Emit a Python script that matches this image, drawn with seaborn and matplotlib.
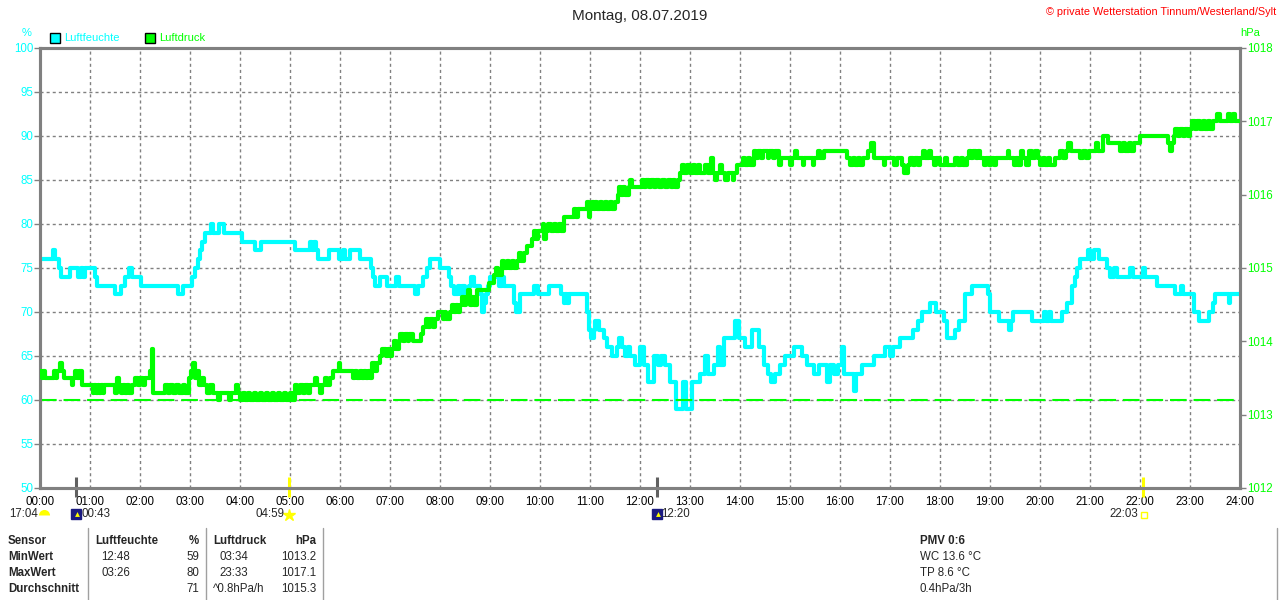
import matplotlib
matplotlib.use("Agg")
import matplotlib.pyplot as plt
import matplotlib.transforms as mtransforms
from matplotlib.lines import Line2D
import seaborn as sns
import pandas as pd

title = "Montag, 08.07.2019"
credit = "© private Wetterstation Tinnum/Westerland/Sylt"

# (hour, %) step points
hum_steps = [
    (0.00, 76), (0.25, 77), (0.30, 76), (0.38, 75), (0.42, 74), (0.60, 75), (0.75, 74), (0.82, 75),
    (0.86, 74), (0.90, 75), (1.10, 74), (1.14, 73), (1.50, 72), (1.62, 73), (1.70, 74), (1.78, 75),
    (1.84, 74), (2.02, 73), (2.75, 72), (2.86, 73), (3.04, 74), (3.10, 75), (3.16, 76), (3.20, 77),
    (3.24, 78), (3.30, 79), (3.42, 80), (3.45, 79), (3.57, 80), (3.68, 79), (4.03, 78), (4.30, 77),
    (4.42, 78), (5.10, 77), (5.40, 78), (5.44, 77), (5.48, 78), (5.52, 77), (5.55, 76), (5.78, 77),
    (5.98, 76), (6.05, 77), (6.10, 76), (6.20, 77), (6.40, 76), (6.62, 75), (6.66, 74), (6.70, 73),
    (6.80, 74), (6.94, 73), (7.12, 74), (7.18, 73), (7.50, 72), (7.56, 73), (7.66, 74), (7.74, 75),
    (7.80, 76), (8.00, 75), (8.17, 74), (8.22, 73), (8.27, 72), (8.35, 73), (8.40, 72), (8.45, 73),
    (8.50, 72), (8.58, 73), (8.62, 74), (8.68, 73), (8.80, 72), (8.84, 70), (8.88, 71), (8.92, 72),
    (8.96, 73), (9.00, 74), (9.18, 73), (9.24, 74), (9.28, 73), (9.48, 71), (9.52, 70), (9.60, 72),
    (9.88, 73), (9.95, 72), (10.17, 73), (10.42, 72), (10.47, 71), (10.50, 72), (10.53, 71), (10.58, 72),
    (10.94, 70), (10.98, 68), (11.02, 67), (11.08, 68), (11.10, 69), (11.18, 68), (11.27, 67), (11.34, 66),
    (11.43, 65), (11.53, 66), (11.58, 67), (11.63, 66), (11.70, 65), (11.75, 66), (11.80, 65), (11.90, 64),
    (12.00, 66), (12.07, 64), (12.15, 62), (12.27, 65), (12.35, 64), (12.42, 65), (12.50, 64), (12.60, 62),
    (12.72, 59), (12.86, 62), (12.92, 59), (13.03, 62), (13.20, 63), (13.30, 65), (13.35, 63), (13.47, 64),
    (13.55, 66), (13.60, 64), (13.67, 67), (13.90, 69), (13.97, 67), (14.10, 66), (14.23, 68), (14.37, 66),
    (14.47, 64), (14.55, 63), (14.62, 62), (14.70, 63), (14.80, 64), (14.90, 65), (15.07, 66), (15.23, 65),
    (15.33, 64), (15.47, 63), (15.57, 64), (15.73, 62), (15.80, 64), (15.88, 63), (15.95, 64), (16.03, 66),
    (16.07, 63), (16.27, 61), (16.33, 63), (16.43, 64), (16.67, 65), (16.90, 66), (17.00, 65), (17.05, 66),
    (17.20, 67), (17.45, 68), (17.55, 69), (17.65, 70), (17.80, 71), (17.92, 70), (18.07, 69), (18.13, 67),
    (18.30, 68), (18.37, 69), (18.50, 72), (18.63, 73), (18.95, 72), (19.00, 70), (19.17, 69), (19.37, 68),
    (19.42, 69), (19.45, 70), (19.83, 69), (20.07, 70), (20.12, 69), (20.17, 70), (20.22, 69), (20.43, 70),
    (20.53, 71), (20.63, 73), (20.70, 74), (20.73, 75), (20.80, 76), (20.95, 77), (21.00, 76), (21.07, 77),
    (21.17, 76), (21.33, 75), (21.40, 74), (21.47, 75), (21.53, 74), (21.80, 75), (21.85, 74), (22.05, 75),
    (22.10, 74), (22.33, 73), (22.70, 72), (22.82, 73), (22.85, 72), (23.07, 70), (23.17, 69), (23.37, 70),
    (23.45, 71), (23.50, 72), (23.77, 71), (23.80, 72), (24.00, 72),
]

# (hour, hPa) step points
pres_steps = [
    (0.00, 1013.6), (0.04, 1013.5), (0.06, 1013.6), (0.10, 1013.5), (0.27, 1013.6), (0.32, 1013.5),
    (0.34, 1013.6), (0.40, 1013.7), (0.43, 1013.6), (0.47, 1013.5), (0.63, 1013.4), (0.66, 1013.5),
    (0.70, 1013.6), (0.74, 1013.5), (0.77, 1013.6), (0.83, 1013.4), (1.05, 1013.3), (1.08, 1013.4),
    (1.12, 1013.3), (1.15, 1013.4), (1.18, 1013.3), (1.21, 1013.4), (1.25, 1013.3), (1.28, 1013.4),
    (1.50, 1013.3), (1.53, 1013.5), (1.57, 1013.4), (1.62, 1013.3), (1.66, 1013.4), (1.70, 1013.3),
    (1.74, 1013.4), (1.78, 1013.3), (1.83, 1013.4), (1.90, 1013.5), (1.95, 1013.4), (2.00, 1013.5),
    (2.05, 1013.4), (2.10, 1013.5), (2.20, 1013.6), (2.23, 1013.9), (2.26, 1013.3), (2.50, 1013.4),
    (2.55, 1013.3), (2.60, 1013.4), (2.66, 1013.3), (2.72, 1013.4), (2.78, 1013.3), (2.85, 1013.4),
    (2.90, 1013.3), (2.97, 1013.5), (3.02, 1013.6), (3.06, 1013.7), (3.10, 1013.5), (3.14, 1013.6),
    (3.17, 1013.4), (3.23, 1013.5), (3.27, 1013.4), (3.33, 1013.3), (3.40, 1013.4), (3.45, 1013.3),
    (3.55, 1013.2), (3.59, 1013.3), (3.78, 1013.2), (3.81, 1013.3), (3.92, 1013.4), (3.95, 1013.3),
    (4.00, 1013.2), (4.06, 1013.3), (4.10, 1013.2), (4.16, 1013.3), (4.20, 1013.2), (4.28, 1013.3),
    (4.32, 1013.2), (4.40, 1013.3), (4.44, 1013.2), (4.52, 1013.3), (4.56, 1013.2), (4.64, 1013.3),
    (4.68, 1013.2), (4.76, 1013.3), (4.80, 1013.2), (4.88, 1013.3), (4.92, 1013.2), (5.00, 1013.3),
    (5.04, 1013.2), (5.10, 1013.4), (5.14, 1013.3), (5.20, 1013.4), (5.25, 1013.3), (5.30, 1013.4),
    (5.36, 1013.3), (5.40, 1013.4), (5.50, 1013.5), (5.54, 1013.4), (5.60, 1013.3), (5.64, 1013.4),
    (5.70, 1013.5), (5.73, 1013.4), (5.80, 1013.5), (5.86, 1013.6), (5.97, 1013.7), (6.00, 1013.6),
    (6.25, 1013.5), (6.30, 1013.6), (6.34, 1013.5), (6.40, 1013.6), (6.44, 1013.5), (6.48, 1013.6),
    (6.52, 1013.5), (6.56, 1013.6), (6.60, 1013.5), (6.64, 1013.7), (6.70, 1013.6), (6.73, 1013.7),
    (6.80, 1013.8), (6.84, 1013.9), (6.92, 1013.8), (6.96, 1013.9), (7.00, 1013.8), (7.03, 1013.9),
    (7.08, 1014.0), (7.12, 1013.9), (7.17, 1014.0), (7.20, 1014.1), (7.26, 1014.0), (7.30, 1014.1),
    (7.35, 1014.0), (7.38, 1014.1), (7.45, 1014.0), (7.62, 1014.1), (7.66, 1014.2), (7.72, 1014.3),
    (7.76, 1014.2), (7.80, 1014.3), (7.86, 1014.2), (7.90, 1014.3), (7.96, 1014.4), (8.05, 1014.3),
    (8.10, 1014.4), (8.12, 1014.3), (8.20, 1014.4), (8.24, 1014.5), (8.28, 1014.4), (8.32, 1014.5),
    (8.36, 1014.4), (8.40, 1014.5), (8.44, 1014.6), (8.48, 1014.5), (8.52, 1014.6), (8.56, 1014.7),
    (8.60, 1014.5), (8.64, 1014.6), (8.68, 1014.5), (8.73, 1014.7), (8.97, 1014.8), (9.07, 1014.9),
    (9.12, 1015.0), (9.15, 1014.9), (9.23, 1015.1), (9.28, 1015.0), (9.33, 1015.1), (9.38, 1015.0),
    (9.43, 1015.1), (9.48, 1015.0), (9.53, 1015.1), (9.58, 1015.2), (9.62, 1015.1), (9.67, 1015.2),
    (9.73, 1015.3), (9.83, 1015.4), (9.88, 1015.5), (9.92, 1015.4), (9.96, 1015.5), (10.05, 1015.6),
    (10.08, 1015.4), (10.12, 1015.5), (10.16, 1015.6), (10.22, 1015.5), (10.27, 1015.6), (10.32, 1015.5),
    (10.37, 1015.6), (10.42, 1015.5), (10.47, 1015.7), (10.67, 1015.8), (10.72, 1015.7), (10.76, 1015.8),
    (10.93, 1015.9), (10.97, 1015.7), (11.00, 1015.8), (11.03, 1015.9), (11.07, 1015.8), (11.10, 1015.9),
    (11.13, 1015.8), (11.20, 1015.9), (11.24, 1015.8), (11.30, 1015.9), (11.33, 1015.8), (11.40, 1015.9),
    (11.43, 1015.8), (11.50, 1015.9), (11.55, 1016.0), (11.58, 1016.1), (11.62, 1016.0), (11.66, 1016.1),
    (11.70, 1016.0), (11.77, 1016.1), (11.80, 1016.2), (11.83, 1016.1), (12.03, 1016.2), (12.08, 1016.1),
    (12.12, 1016.2), (12.18, 1016.1), (12.22, 1016.2), (12.28, 1016.1), (12.32, 1016.2), (12.38, 1016.1),
    (12.44, 1016.2), (12.50, 1016.1), (12.55, 1016.2), (12.62, 1016.1), (12.66, 1016.2), (12.70, 1016.1),
    (12.76, 1016.2), (12.80, 1016.3), (12.84, 1016.4), (12.88, 1016.3), (12.94, 1016.4), (13.00, 1016.3),
    (13.05, 1016.4), (13.10, 1016.3), (13.15, 1016.4), (13.20, 1016.3), (13.30, 1016.4), (13.35, 1016.3),
    (13.42, 1016.5), (13.45, 1016.3), (13.50, 1016.2), (13.54, 1016.3), (13.60, 1016.4), (13.63, 1016.3),
    (13.70, 1016.2), (13.75, 1016.3), (13.85, 1016.2), (13.88, 1016.3), (13.93, 1016.4), (14.05, 1016.5),
    (14.10, 1016.4), (14.15, 1016.5), (14.20, 1016.4), (14.27, 1016.6), (14.32, 1016.5), (14.36, 1016.6),
    (14.42, 1016.5), (14.46, 1016.6), (14.55, 1016.5), (14.58, 1016.6), (14.65, 1016.5), (14.70, 1016.6),
    (14.78, 1016.4), (14.82, 1016.5), (15.00, 1016.4), (15.04, 1016.5), (15.10, 1016.6), (15.14, 1016.5),
    (15.25, 1016.4), (15.28, 1016.5), (15.45, 1016.4), (15.48, 1016.5), (15.55, 1016.6), (15.60, 1016.5),
    (15.67, 1016.6), (16.13, 1016.5), (16.20, 1016.4), (16.25, 1016.5), (16.30, 1016.4), (16.36, 1016.5),
    (16.40, 1016.4), (16.46, 1016.5), (16.55, 1016.6), (16.62, 1016.7), (16.68, 1016.5), (16.87, 1016.4),
    (16.90, 1016.5), (17.07, 1016.4), (17.13, 1016.5), (17.23, 1016.4), (17.27, 1016.3), (17.35, 1016.4),
    (17.40, 1016.5), (17.45, 1016.4), (17.50, 1016.5), (17.55, 1016.4), (17.60, 1016.5), (17.66, 1016.6),
    (17.70, 1016.5), (17.78, 1016.6), (17.82, 1016.5), (17.88, 1016.4), (17.92, 1016.5), (18.00, 1016.4),
    (18.10, 1016.5), (18.13, 1016.4), (18.30, 1016.5), (18.35, 1016.4), (18.42, 1016.5), (18.45, 1016.4),
    (18.53, 1016.5), (18.57, 1016.6), (18.62, 1016.5), (18.66, 1016.6), (18.72, 1016.5), (18.76, 1016.6),
    (18.80, 1016.5), (18.88, 1016.4), (18.92, 1016.5), (18.98, 1016.4), (19.02, 1016.5), (19.08, 1016.4),
    (19.12, 1016.5), (19.35, 1016.6), (19.38, 1016.5), (19.47, 1016.4), (19.52, 1016.5), (19.56, 1016.4),
    (19.62, 1016.6), (19.66, 1016.5), (19.72, 1016.4), (19.78, 1016.6), (19.83, 1016.5), (19.90, 1016.6),
    (19.95, 1016.5), (20.00, 1016.4), (20.05, 1016.5), (20.10, 1016.4), (20.15, 1016.5), (20.20, 1016.4),
    (20.30, 1016.5), (20.40, 1016.6), (20.45, 1016.5), (20.52, 1016.6), (20.56, 1016.7), (20.62, 1016.6),
    (20.80, 1016.5), (20.86, 1016.6), (20.92, 1016.5), (20.98, 1016.6), (21.12, 1016.7), (21.16, 1016.6),
    (21.25, 1016.8), (21.35, 1016.7), (21.60, 1016.6), (21.65, 1016.7), (21.70, 1016.6), (21.78, 1016.7),
    (21.82, 1016.6), (21.87, 1016.7), (22.00, 1016.8), (22.55, 1016.7), (22.60, 1016.6), (22.64, 1016.7),
    (22.67, 1016.8), (22.70, 1016.9), (22.75, 1016.8), (22.80, 1016.9), (22.85, 1016.8), (22.90, 1016.9),
    (22.95, 1016.8), (23.00, 1016.9), (23.03, 1017.0), (23.10, 1016.9), (23.14, 1017.0), (23.20, 1016.9),
    (23.25, 1017.0), (23.30, 1016.9), (23.35, 1017.0), (23.40, 1016.9), (23.45, 1017.0), (23.53, 1017.1),
    (23.60, 1017.0), (23.75, 1017.1), (23.80, 1017.0), (23.85, 1017.1), (23.90, 1017.0), (24.00, 1017.0),
]
pres_min = 1013.2

hours = list(range(25))
hour_labels = [f"{h:02d}:00" for h in hours]
hum_ticks = list(range(50, 101, 5))
pres_ticks = list(range(1012, 1019))

# moon / sun events: hour, label, kind
events = [(0.72, "00:43", "moon"), (4.98, "04:59", "sun"), (12.33, "12:20", "moon"), (22.05, "22:03", "sunset")]

# table below the chart
row_names = ["Sensor", "MinWert", "MaxWert", "Durchschnitt"]
hum_times = ["Luftfeuchte", "12:48", "03:26", ""]
hum_vals = ["%", "59", "80", "71"]
pres_times = ["Luftdruck", "03:34", "23:33", "^0.8hPa/h"]
pres_vals = ["hPa", "1013.2", "1017.1", "1015.3"]
extra_info = ["PMV 0:6", "WC 13.6 °C", "TP 8.6 °C", "0.4hPa/3h"]

CYAN = "#00ffff"
GREEN = "#00ff00"
GRID = "#808080"

sns.set_style("white")
plt.rcParams["font.family"] = ["Liberation Sans", "DejaVu Sans"]

W, H = 1280, 600
fig = plt.figure(figsize=(12.8, 6), dpi=100)


def px(x, y):
    return x / W, 1 - y / H


ax = fig.add_axes([40 / W, 112 / H, 1200 / W, 440 / H])
ax2 = ax.twinx()

hum = pd.DataFrame(hum_steps, columns=["hour", "value"])
pres = pd.DataFrame(pres_steps, columns=["hour", "value"])

sns.lineplot(data=hum, x="hour", y="value", ax=ax, color=CYAN, linewidth=3,
             drawstyle="steps-post", estimator=None, sort=False, zorder=3)
ax2.axhline(pres_min, color=GREEN, lw=1.5, dashes=(8, 3.3), zorder=2)
sns.lineplot(data=pres, x="hour", y="value", ax=ax2, color=GREEN, linewidth=3,
             drawstyle="steps-post", estimator=None, sort=False, zorder=3)

ax.set_xlim(0, 24)
ax.set_ylim(50, 100)
ax2.set_ylim(1012, 1018)
ax.set_xticks(hours)
ax.set_xticklabels(hour_labels)
ax.set_yticks(hum_ticks)
ax2.set_yticks(pres_ticks)
ax.set_xlabel("")
ax.set_ylabel("")
ax2.set_ylabel("")

ax.grid(True, color=GRID, linestyle=(0, (2.2, 2.2)), linewidth=1)
ax.tick_params(axis="x", length=0, pad=6, labelsize=8.3, colors="black")
ax.tick_params(axis="y", length=4, width=1, pad=1, labelsize=8.3, color=GRID, labelcolor=CYAN)
ax2.tick_params(axis="y", length=4, width=1, pad=1, labelsize=8.3, color=GRID, labelcolor=GREEN)
for a in (ax, ax2):
    for s in a.spines.values():
        s.set_color(GRID)
        s.set_linewidth(2.2)

# sun / moon markers across the x axis
trans = mtransforms.blended_transform_factory(ax.transData, ax.transAxes)
for h, lab, kind in events:
    col = "#606060" if kind == "moon" else "#ffff00"
    ax.vlines(h, -0.02, 0.024, transform=trans, colors=col, lw=2.2, clip_on=False, zorder=5)

# texts above the chart
fig.text(*px(640, 16), title, ha="center", va="center", fontsize=11)
fig.text(*px(1276, 12), credit, ha="right", va="center", fontsize=7.8, color="red")
fig.text(*px(27, 33), "%", ha="center", va="center", fontsize=8, color=CYAN)
fig.text(*px(1250, 33), "hPa", ha="center", va="center", fontsize=8, color=GREEN)
for xs, lab, col in [(55, "Luftfeuchte", CYAN), (150, "Luftdruck", GREEN)]:
    fig.add_artist(Line2D([xs / W], [1 - 38 / H], marker="s", ms=7.5, mfc=col, mec="black", mew=1))
    fig.text(*px(xs + 9, 38), lab, ha="left", va="center", fontsize=8, color=col)

# event times under the x axis
ev_y = 514
fig.text(*px(38, ev_y), "17:04", ha="right", va="center", fontsize=8.3)
fig.add_artist(Line2D([44 / W], [1 - 515 / H], marker="o", ms=8, fillstyle="top",
                      mfc="#ffff00", mfcalt="none", mec="none"))
for h, lab, kind in events:
    xp = 40 + h * 50
    if kind == "moon":
        fig.add_artist(Line2D([xp / W], [1 - ev_y / H], marker="s", ms=7, mfc="#1a1a80", mec="#1a1a80"))
        fig.add_artist(Line2D([(xp + 1) / W], [1 - ev_y / H], marker="^", ms=3.5, mfc="#ffff00", mec="none"))
        fig.text(*px(xp + 5, ev_y), lab, ha="left", va="center", fontsize=8.3)
    elif kind == "sun":
        fig.add_artist(Line2D([xp / W], [1 - (ev_y + 1) / H], marker="*", ms=9, mfc="#ffff00", mec="#ffff00"))
        fig.text(*px(xp - 5, ev_y), lab, ha="right", va="center", fontsize=8.3)
    else:
        fig.add_artist(Line2D([(xp + 1) / W], [1 - (ev_y + 1) / H], marker="s", ms=4, mfc="none", mec="#ffff00"))
        fig.text(*px(xp - 4, ev_y), lab, ha="right", va="center", fontsize=8.3)

# statistics table
rows_y = [541, 557, 573, 589]
for i, yy in enumerate(rows_y):
    bold = "bold" if i == 0 else "normal"
    fig.text(*px(8, yy), row_names[i], ha="left", va="center", fontsize=8.3, fontweight="bold")
    fig.text(*px(95 if i == 0 else 101, yy), hum_times[i], ha="left", va="center", fontsize=8.3, fontweight=bold)
    fig.text(*px(199, yy), hum_vals[i], ha="right", va="center", fontsize=8.3, fontweight=bold)
    fig.text(*px(213 if i in (0, 3) else 219, yy), pres_times[i], ha="left", va="center", fontsize=8.3, fontweight=bold)
    fig.text(*px(316, yy), pres_vals[i], ha="right", va="center", fontsize=8.3, fontweight=bold)
    fig.text(*px(920, yy), extra_info[i], ha="left", va="center", fontsize=8.3, fontweight=bold)
for xs in (88, 206, 323, 1277):
    fig.add_artist(Line2D([xs / W, xs / W], [1 - 528 / H, 0], color="#a0a0a0", lw=1))

fig.savefig("out.png", dpi=100)
